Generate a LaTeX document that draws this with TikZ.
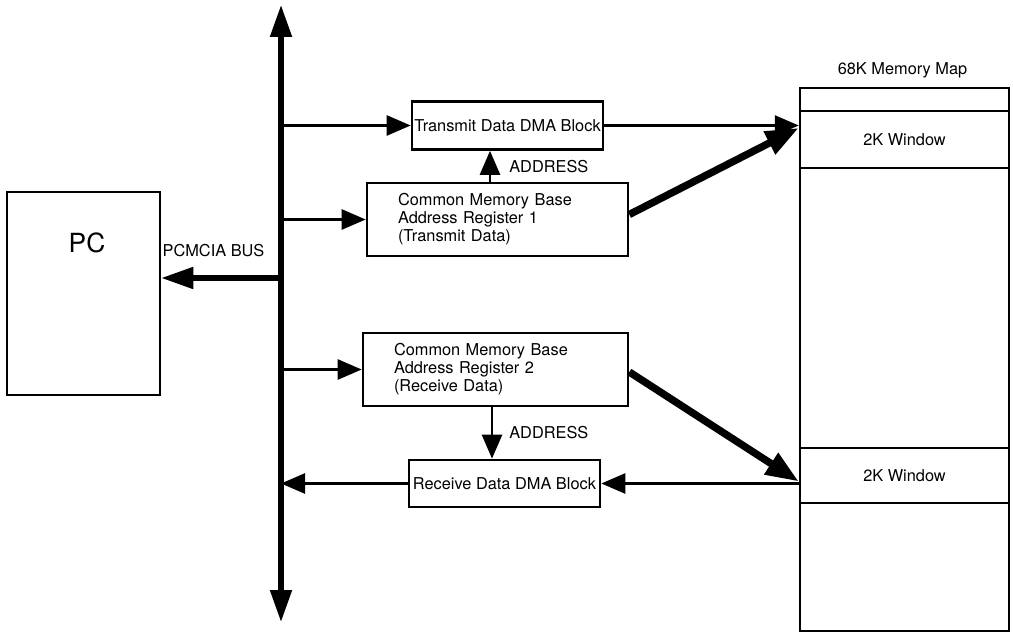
\documentclass[tikz,border=0pt]{standalone}
\usepackage{fontspec}
\setmainfont{TeX Gyre Heros}
\usetikzlibrary{arrows.meta,positioning,calc}

\begin{document}
\begin{tikzpicture}[
    box/.style={
      draw, line width=1.5pt, minimum width=3.82cm, minimum height=0.96cm,
      font=\fontsize{9.3}{10.2}\selectfont, inner sep=0pt
    },
    regbox/.style={
      draw, line width=1.5pt, minimum height=1.46cm,
      font=\fontsize{9.3}{10.2}\selectfont, align=left,
      inner xsep=0.62cm, inner ysep=0pt
    },
    memcell/.style={
      draw, line width=1.4pt, minimum width=4.18cm,
      font=\fontsize{9.3}{10.2}\selectfont, inner sep=0pt
    },
    arr/.style={-{Triangle[length=0.48cm, width=0.40cm]}, line width=1.5pt},
    busarr/.style={-{Triangle[length=0.64cm, width=0.42cm]}, line width=2.9pt},
    fatarr/.style={-{Triangle[length=0.66cm, width=0.48cm]}, line width=4.2pt},
    lbl/.style={font=\fontsize{9.3}{10.2}\selectfont, inner sep=0pt}
  ]
  \useasboundingbox (0,0) rectangle (20.26,-12.68);

  % PC side
  \node[draw, line width=1.5pt, minimum width=3.06cm, minimum height=4.06cm] (pc) at (1.67,-5.87) {};
  \node[font=\fontsize{15}{17}\selectfont, inner sep=0pt] (pctext) at (1.74,-4.86) {PC};

  % PCMCIA bus
  \coordinate (busTop) at (5.62,-0.10);
  \coordinate (busBot) at (5.62,-12.44);
  \coordinate (pcmcia) at (5.62,-5.56);
  \draw[busarr] (pcmcia) -- (busTop);
  \draw[busarr] (pcmcia) -- (busBot);
  \draw[busarr] (pcmcia) -- (pcmcia -| pc.east);
  \node[lbl] (buslabel) at (4.27,-5.02) {PCMCIA BUS};

  % Transmit path
  \node[box] (txdma) at (10.15,-2.51) {Transmit Data DMA Block};
  \node[regbox, text width=3.98cm] (cmbar1) at (9.95,-4.39)
    {Common Memory Base\\Address Register 1\\(Transmit Data)};

  % Receive path
  \node[regbox, text width=4.06cm] (cmbar2) at (9.91,-7.39)
    {Common Memory Base\\Address Register 2\\(Receive Data)};
  \node[box, minimum height=0.94cm] (rxdma) at (10.09,-9.67) {Receive Data DMA Block};

  % 68K memory map
  \node[memcell, minimum height=10.86cm] (mem) at (18.09,-7.19) {};
  \node[memcell, minimum height=1.14cm] (win1) at (18.09,-2.79) {2K Window};
  \node[memcell, minimum height=1.10cm] (win2) at (18.09,-9.51) {2K Window};
  \node[lbl] (memtitle) at (18.05,-1.40) {68K Memory Map};

  % Arrows
  \draw[arr] (busTop |- txdma.west) -- (txdma.west);
  \draw[arr] (busTop |- cmbar1.west) -- (cmbar1.west);
  \draw[arr] (busTop |- cmbar2.west) -- (cmbar2.west);
  \draw[arr] (rxdma.west) -- (rxdma.west -| busTop);
  \draw[arr] ([xshift=-1.5mm]cmbar1.north) -- ([xshift=-1.5mm]cmbar1.north |- txdma.south)
    node[lbl, midway, right=3.6mm] {ADDRESS};
  \draw[arr] ([xshift=-0.7mm]cmbar2.south) -- ([xshift=-0.7mm]cmbar2.south |- rxdma.north)
    node[lbl, midway, right=3.2mm] {ADDRESS};
  \draw[arr] (txdma.east) -- (txdma.east -| win1.west);
  \draw[arr] (rxdma.east -| win2.west) -- (rxdma.east);
  \draw[fatarr] ([yshift=1mm]cmbar1.east) -- ($(txdma.east -| win1.west)+(0,-0.05)$);
  \draw[fatarr] ([yshift=-0.5mm]cmbar2.east) -- ($(rxdma.east -| win2.west)+(0,0.04)$);

\end{tikzpicture}
\end{document}
